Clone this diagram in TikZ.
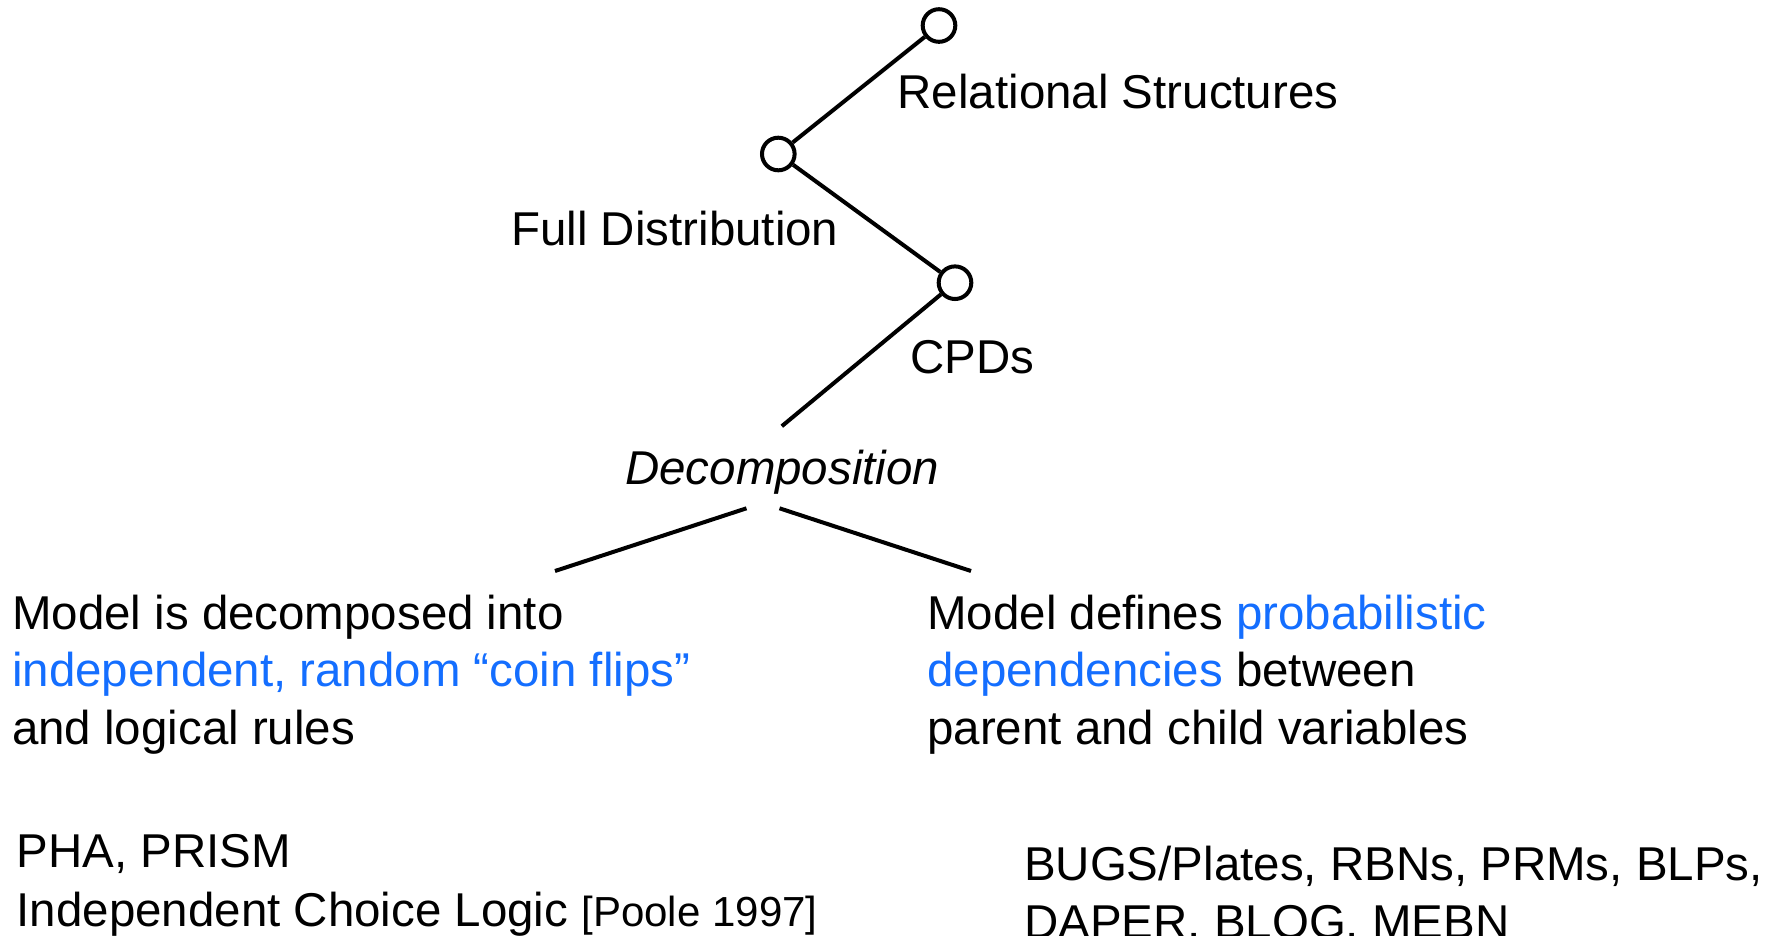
\documentclass[tikz,border=0pt]{standalone}
\usepackage{fontspec}
\setmainfont{Liberation Sans}
\definecolor{linkblue}{RGB}{20,110,255}
\tikzset{
  knot/.style={circle, draw, line width=1.14pt, minimum size=0.326cm, inner sep=0pt, fill=white},
  edge/.style={line width=1.14pt},
  lbl/.style={anchor=base west, inner sep=0pt, font=\fontsize{13.5}{16.4}\selectfont},
  cite/.style={font=\fontsize{11.95}{14}\selectfont}
}
\begin{document}
\begin{tikzpicture}[x=0.01cm, y=-0.01cm]
  \useasboundingbox (0,0) rectangle (1787,936);

  % hierarchy of representation choices
  \node[knot] (rel)  at (939,25.5) {};
  \node[knot] (full) at (778.3,154) {};
  \node[knot] (cpd)  at (955,282.7) {};
  \coordinate (cpdend) at (781.8,426.2);

  \draw[edge] (rel) -- (full);
  \draw[edge] (full) -- (cpd);
  \draw[edge] (cpd) -- (cpdend);

  \node[lbl] (relL)  at (897,108) {Relational Structures};
  \node[lbl] (fullL) at (510.6,245) {Full Distribution};
  \node[lbl] (cpdL)  at (909.5,373.7) {CPDs};
  \node[lbl, font=\fontsize{13.5}{16.4}\selectfont\itshape] (dec) at (624.5,484) {Decomposition};

  % two branches under the decomposition
  \coordinate (la) at (746.5,508.3);
  \coordinate (lb) at (555,571);
  \coordinate (ra) at (779.5,508.3);
  \coordinate (rb) at (971,571);
  \draw[edge] (la) -- (lb);
  \draw[edge] (ra) -- (rb);

  % left branch
  \node[lbl] (l1) at (11.4,629) {Model is decomposed into};
  \node[lbl, text=linkblue] (l2) at (11.4,686.6) {independent, random “coin flips”};
  \node[lbl] (l3) at (11.4,744.2) {and logical rules};
  \node[lbl] (l4) at (16,867) {PHA, PRISM};
  \node[lbl] (l5) at (16,926.5) {Independent Choice Logic {\fontsize{11.95}{14}\selectfont[Poole 1997]}};

  % right branch
  \node[lbl] (r1) at (926.6,629) {Model defines \textcolor{linkblue}{probabilistic}};
  \node[lbl] (r2) at (926.6,686.6) {\textcolor{linkblue}{dependencies} between};
  \node[lbl] (r3) at (926.6,744.2) {parent and child variables};
  \node[lbl] (r4) at (1023.4,880) {BUGS/Plates, RBNs, PRMs, BLPs,};
  \node[lbl] (r5) at (1023.4,938) {DAPER, BLOG, MEBN};
\end{tikzpicture}
\end{document}
